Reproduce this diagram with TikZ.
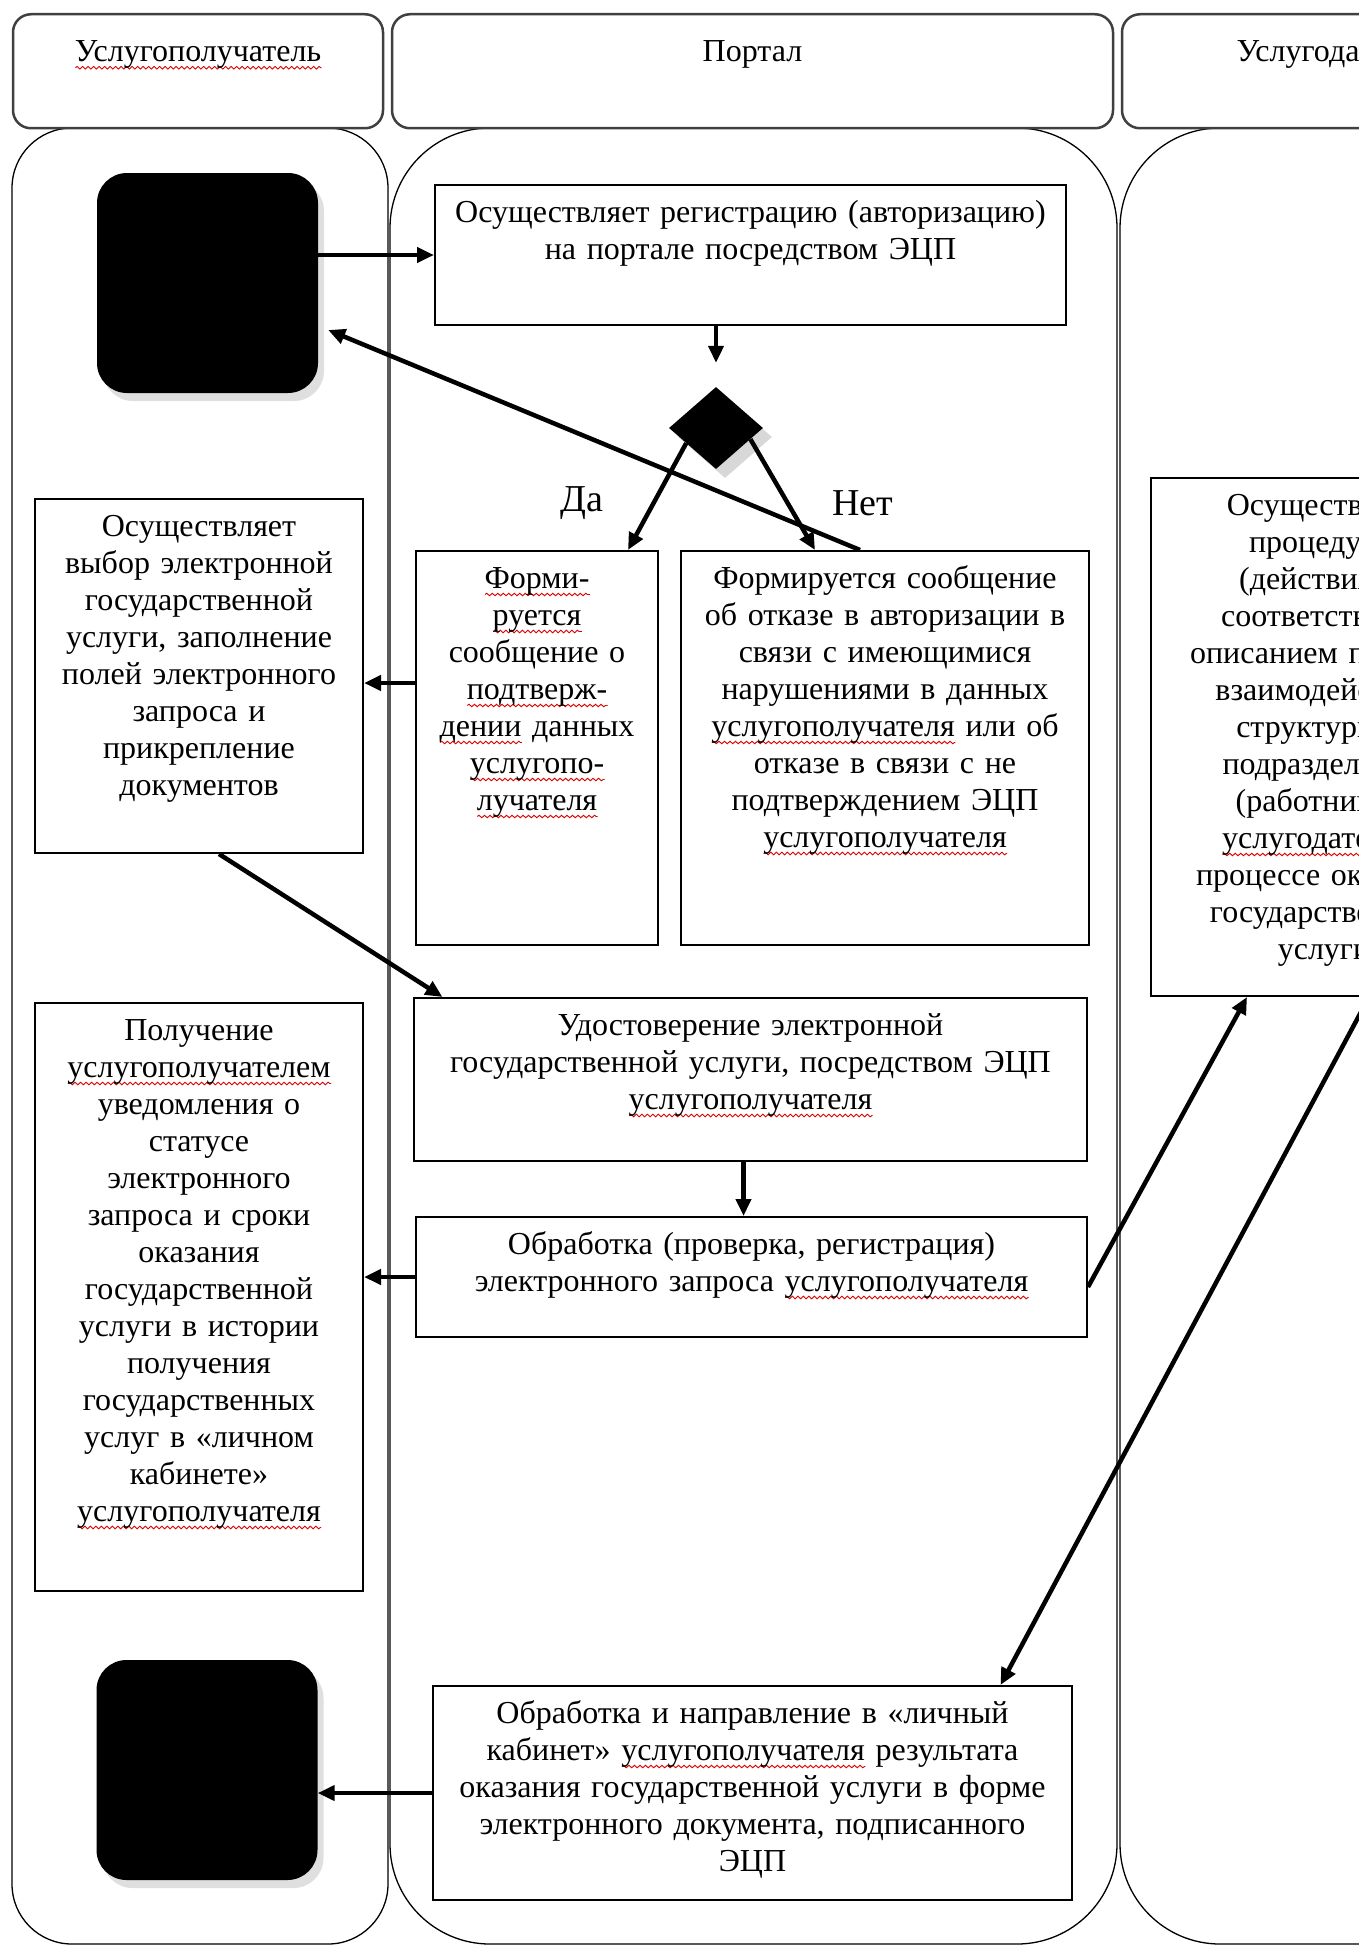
\documentclass[tikz,border=0pt]{standalone}
\usepackage{fontspec}
\setmainfont{Liberation Serif}
\usetikzlibrary{shapes.geometric,shadows,arrows.meta,decorations.pathmorphing}
\newsavebox\sqbox
\newcommand\squig[1]{\leavevmode\sbox\sqbox{#1}\rlap{\tikz[baseline=0pt,x=1pt,y=1pt]\draw[red!85!black,sharp corners,line width=.9pt,decorate,decoration={snake,amplitude=1.3pt,segment length=5.5pt}] (0,-6.5) -- (\the\wd\sqbox,-6.5);}\usebox\sqbox}

\begin{document}
\begin{tikzpicture}[x=1pt,y=-1pt,
  lane/.style={draw,line width=1.3pt},
  hdr/.style={draw=black!75,line width=2.5pt,rounded corners=18pt,anchor=north,align=center,
    inner sep=6pt,text height=41pt,text depth=61pt,font=\fontsize{32}{37}\selectfont},
  action/.style={draw,line width=2pt,fill=white,anchor=north,align=center,inner sep=6pt,
    text height=31pt,font=\fontsize{32}{37}\selectfont},
  term/.style={fill=black,rounded corners=30pt,minimum width=221pt,minimum height=220pt,
    drop shadow={shadow xshift=6pt,shadow yshift=-8pt,opacity=.25}},
  choice/.style={fill=black,diamond,minimum width=94pt,minimum height=82pt,inner sep=0pt,
    drop shadow={shadow xshift=9pt,shadow yshift=-9pt,opacity=.3}},
  arr/.style={line width=4.5pt,-{Triangle[length=17pt,width=15pt]}},
  lbl/.style={font=\fontsize{38}{44}\selectfont}]
 \useasboundingbox (0,0) rectangle (1359,1948);
 \clip (0,0) rectangle (1359,1948);
 \fill[white] (0,0) rectangle (1359,1948);

 \draw[lane,rounded corners=60pt] (12,128) rectangle (388,1944);
 \draw[lane,rounded corners=100pt] (390,128) rectangle (1117,1944);
 \draw[lane,rounded corners=100pt] (1120,128) rectangle (1530,1944);

 \node[hdr,text width=358pt] (h1) at (198,13) {\squig{Услугополучатель}};
 \node[hdr,text width=709pt] (h2) at (752.5,13) {Портал};
 \node[hdr,text width=398pt] (h3) at (1327,13) {Услугодатель};

 \node[term] (start) at (207.5,283) {};
 \node[term] (finish) at (207,1770) {};

 \node[action,text width=619pt,text depth=97pt] (reg) at (750.5,184)
  {Осуществляет регистрацию (авторизацию)\\на портале посредством ЭЦП};
 \node[choice] (dec) at (716,428) {};
 \node[lbl] (ylbl) at (582,503) {Да};
 \node[lbl] (nlbl) at (863,503) {Нет};
 \node[action,text width=230pt,text depth=351pt] (yes) at (537,550)
  {\squig{Форми-}\\\squig{руется}\\сообщение о\\\squig{подтверж-}\\\squig{дении} данных\\\squig{услугопо-}\\\squig{лучателя}};
 \node[action,text width=396pt,text depth=351pt] (no) at (885,550)
  {Формируется сообщение\\об отказе в авторизации в\\связи с имеющимися\\нарушениями в данных\\\squig{услугополучателя} или об\\отказе в связи с не\\подтверждением ЭЦП\\\squig{услугополучателя}};
 \node[action,text width=316pt,text depth=311pt] (sel) at (199,498)
  {Осуществляет\\выбор электронной\\государственной\\услуги, заполнение\\полей электронного\\запроса и\\прикрепление\\документов};
 \node[action,text width=316pt,text depth=545pt] (recv) at (199,1002)
  {Получение\\\squig{услугополучателем}\\уведомления о\\статусе\\электронного\\запроса и сроки\\оказания\\государственной\\услуги в истории\\получения\\государственных\\услуг в «личном\\кабинете»\\\squig{услугополучателя}};
 \node[action,text width=661pt,text depth=120pt] (cert) at (750.5,997)
  {Удостоверение электронной\\государственной услуги, посредством ЭЦП\\\squig{услугополучателя}};
 \node[action,text width=659pt,text depth=77pt] (check) at (751.5,1216)
  {Обработка (проверка, регистрация)\\электронного запроса \squig{услугополучателя}};
 \node[action,text width=627pt,text depth=171pt] (result) at (752.5,1685)
  {Обработка и направление в «личный\\кабинет» \squig{услугополучателя} результата\\оказания государственной услуги в форме\\электронного документа, подписанного\\ЭЦП};
 \node[action,text width=334pt,text depth=475pt] (act) at (1324,477)
  {Осуществляет\\процедуры\\(действия) в\\соответствии с\\описанием порядка\\взаимодействия\\структурных\\подразделений\\(работников)\\\squig{услугодателя} в\\процессе оказания\\государственной\\услуги};

 \draw[arr] (start.east |- reg.west) -- (reg.west);
 \draw[arr] (reg.south -| dec.north) -- ([yshift=24pt]dec.north);
 \draw[arr] (dec.207) -- ([xshift=91pt]yes.north);
 \draw[arr] (dec.-18) -- ([xshift=-70pt]no.north);
 \draw[arr] ([xshift=-25pt]no.north) -- ([xshift=10pt,yshift=-47pt]start.east);
 \draw[arr] (yes.west |- 0,683) -- (sel.east |- 0,683);
 \draw[arr] ([xshift=20pt]sel.south) -- ([xshift=-308pt]cert.north);
 \draw[arr] ([xshift=-7pt]cert.south) -- ([xshift=-7pt]cert.south |- check.north);
 \draw[arr] (check.west) -- (check.west -| recv.east);
 \draw[arr] ([yshift=-10pt]check.east) -- ([xshift=-77pt]act.south);
 \draw[arr] ([xshift=45pt]act.south) -- ([xshift=248pt]result.north);
 \draw[arr] (result.west) -- (result.west -| finish.east);
\end{tikzpicture}
\end{document}
